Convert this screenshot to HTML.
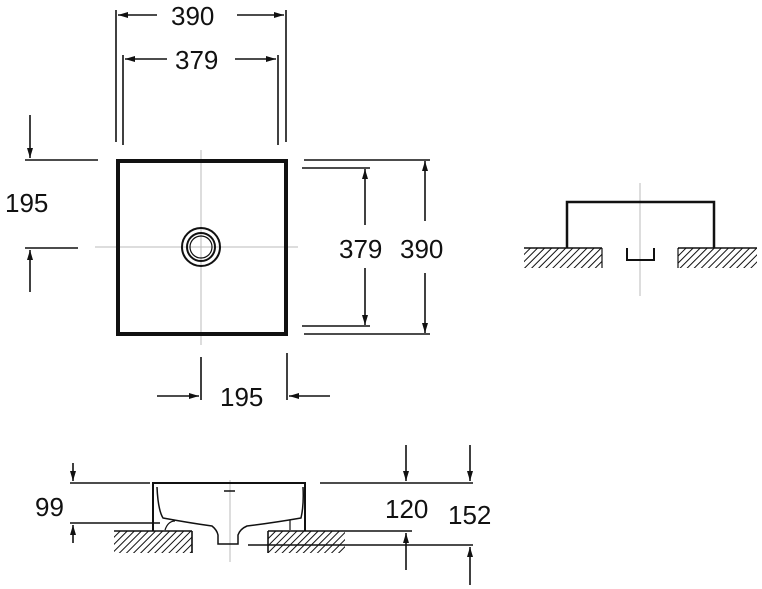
<!DOCTYPE html>
<html><head><style>body{margin:0;background:#fff}svg{display:block}text{font-family:"Liberation Sans",sans-serif;font-size:26px;fill:#111}</style></head><body>
<svg width="762" height="589" viewBox="0 0 762 589" xmlns="http://www.w3.org/2000/svg">
<defs>
<marker id="a" viewBox="0 0 10 6" refX="10" refY="3" markerWidth="16" markerHeight="6" markerUnits="userSpaceOnUse" orient="auto"><path d="M0,0L10,3L0,6z" fill="#111"/></marker>
<pattern id="h" width="5" height="5" patternUnits="userSpaceOnUse" patternTransform="rotate(45)"><rect width="5" height="5" fill="#fff"/><line x1="0" y1="0" x2="0" y2="5" stroke="#111" stroke-width="2"/></pattern>
</defs>
<g stroke="#111" stroke-width="1.6" fill="none">
<line x1="116" y1="10" x2="116" y2="142"/><line x1="286" y1="10" x2="286" y2="142"/>
<line x1="123" y1="55" x2="123" y2="145"/><line x1="278" y1="55" x2="278" y2="145"/>
<line x1="157" y1="15" x2="118" y2="15" marker-end="url(#a)"/><line x1="237" y1="15" x2="284" y2="15" marker-end="url(#a)"/>
<line x1="167" y1="59" x2="125" y2="59" marker-end="url(#a)"/><line x1="235" y1="59" x2="276" y2="59" marker-end="url(#a)"/>
<line x1="25" y1="160" x2="98" y2="160"/><line x1="25" y1="248" x2="78" y2="248"/>
<line x1="30" y1="115" x2="30" y2="158" marker-end="url(#a)"/><line x1="30" y1="292" x2="30" y2="250" marker-end="url(#a)"/>
<line x1="304" y1="160" x2="430" y2="160"/><line x1="302" y1="168" x2="370" y2="168"/>
<line x1="302" y1="326" x2="370" y2="326"/><line x1="304" y1="334" x2="430" y2="334"/>
<line x1="365" y1="225" x2="365" y2="169" marker-end="url(#a)"/><line x1="365" y1="268" x2="365" y2="325" marker-end="url(#a)"/>
<line x1="425" y1="221" x2="425" y2="161" marker-end="url(#a)"/><line x1="425" y1="273" x2="425" y2="333" marker-end="url(#a)"/>
<line x1="201" y1="357" x2="201" y2="400"/><line x1="287" y1="353" x2="287" y2="400"/>
<line x1="157" y1="396" x2="199" y2="396" marker-end="url(#a)"/><line x1="330" y1="396" x2="289" y2="396" marker-end="url(#a)"/>
</g>
<g stroke="#bbb" stroke-width="1"><line x1="201" y1="150" x2="201" y2="345"/><line x1="95" y1="247" x2="298" y2="247"/></g>
<rect x="118" y="161" width="168" height="173" fill="none" stroke="#111" stroke-width="4"/>
<circle cx="201" cy="247" r="19" fill="none" stroke="#111" stroke-width="2"/>
<circle cx="201" cy="247" r="14" fill="none" stroke="#111" stroke-width="2"/>
<circle cx="201" cy="247" r="11" fill="none" stroke="#111" stroke-width="1.2"/>
<text x="171" y="25">390</text><text x="175" y="69">379</text>
<text x="5" y="212">195</text><text x="339" y="258">379</text><text x="400" y="258">390</text>
<text x="220" y="406">195</text>
<line x1="640" y1="183" x2="640" y2="296" stroke="#bbb"/>
<rect x="524" y="248" width="78" height="20" fill="url(#h)"/><rect x="678" y="248" width="79" height="20" fill="url(#h)"/>
<g stroke="#111" fill="none"><line x1="524" y1="248" x2="602" y2="248" stroke-width="1.6"/><line x1="602" y1="248" x2="602" y2="268" stroke-width="1.2"/>
<line x1="678" y1="248" x2="757" y2="248" stroke-width="1.6"/><line x1="678" y1="248" x2="678" y2="268" stroke-width="1.2"/>
<path d="M567,248V202H714V248" stroke-width="2.5"/><path d="M627,248V260H654V248" stroke-width="2"/></g>
<line x1="230" y1="480" x2="230" y2="562" stroke="#bbb"/>
<rect x="114" y="531" width="78" height="22" fill="url(#h)"/><rect x="268" y="531" width="77" height="22" fill="url(#h)"/>
<g stroke="#111" stroke-width="1.6" fill="none">
<line x1="70" y1="483" x2="150" y2="483"/><line x1="320" y1="483" x2="473" y2="483"/>
<line x1="70" y1="523" x2="160" y2="523"/>
<line x1="114" y1="531" x2="192" y2="531"/><line x1="192" y1="531" x2="192" y2="553"/>
<line x1="268" y1="531" x2="412" y2="531"/><line x1="268" y1="531" x2="268" y2="553"/>
<line x1="248" y1="545" x2="473" y2="545"/>
<path d="M153,531V483H305V531" stroke-width="2"/>
<path d="M157,487Q158,510 163,518Q190,523 212,526Q217,530 218,535V544H238V535Q240,529 247,526Q272,523 301,518Q304,505 303,487" stroke-width="1.5"/>
<path d="M165,530Q168,521 175,521M290,530V520" stroke-width="1.2"/>
<line x1="224" y1="491" x2="235" y2="491" stroke-width="1.5"/>
<line x1="73" y1="463" x2="73" y2="481" marker-end="url(#a)"/><line x1="73" y1="543" x2="73" y2="525" marker-end="url(#a)"/>
<line x1="406" y1="445" x2="406" y2="481" marker-end="url(#a)"/><line x1="406" y1="570" x2="406" y2="533" marker-end="url(#a)"/>
<line x1="470" y1="445" x2="470" y2="481" marker-end="url(#a)"/><line x1="470" y1="585" x2="470" y2="547" marker-end="url(#a)"/>
</g>
<text x="35" y="516">99</text><text x="385" y="518">120</text><text x="448" y="524">152</text>
</svg>
</body></html>
